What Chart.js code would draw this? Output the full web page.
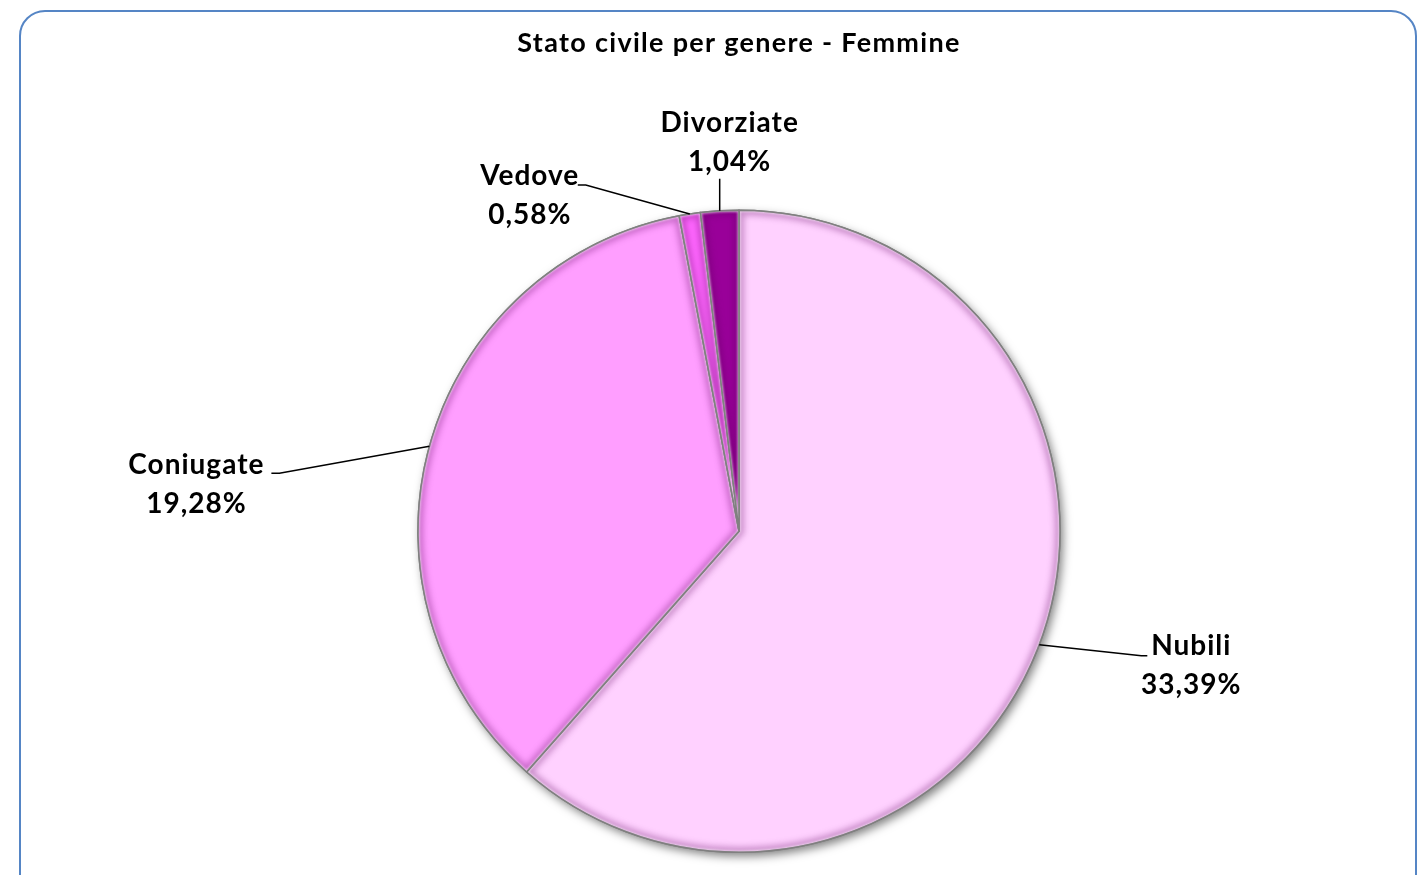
<!DOCTYPE html>
<html>
<head>
<meta charset="utf-8">
<script src="https://cdn.jsdelivr.net/npm/chart.js@4.4.1/dist/chart.umd.min.js"></script>
<style>
  html, body { margin: 0; padding: 0; background: #fff; overflow: hidden; }
  #frame {
    position: absolute; left: 19px; top: 10px; width: 1398px; height: 900px;
    border: 2.5px solid #5585C5; border-radius: 26px; box-sizing: border-box;
  }
  #wrap { position: absolute; left: 0; top: 0; width: 1426px; height: 875px; }
</style>
</head>
<body>
<div id="frame"></div>
<div id="wrap"><canvas id="pieChart" width="1426" height="875"></canvas></div>
<script>
// Values (percent labels as shown).
const categories = ["Nubili", "Coniugate", "Vedove", "Divorziate"];
const values = [33.39, 19.28, 0.58, 1.04];
const valueLabels = ["33,39%", "19,28%", "0,58%", "1,04%"];
const sliceColors = ["#FFD1FF", "#FF9EFF", "#FF66FF", "#990099"];

// Where each label sits relative to the point on the pie edge at mid-angle.
// elbow: where the leader line bends, text: centre of first text line.
const labelLayout = [
  { elbow: [102, 11], text: [152, 1] },
  { elbow: [-150, 27], text: [-233, 19] },
  { elbow: [-104, -29], text: [-160, -38] },
  { elbow: [0, -32], text: [10, -88] }
];

const labelFont = 'bold 28px Lato, "Open Sans", sans-serif';

// Wider tracking so Lato matches the width of the original text.
const tracking = {
  id: 'tracking',
  beforeDraw(chart) {
    chart.ctx.letterSpacing = '1.3px';
  }
};

// Soft drop shadow under the whole pie.
const pieShadow = {
  id: 'pieShadow',
  beforeDatasetsDraw(chart) {
    const arc = chart.getDatasetMeta(0).data[0];
    if (!arc) return;
    const ctx = chart.ctx;
    ctx.save();
    ctx.shadowColor = 'rgba(0,0,0,0.5)';
    ctx.shadowBlur = 10;
    ctx.shadowOffsetX = 3;
    ctx.shadowOffsetY = 4;
    ctx.fillStyle = '#fff';
    ctx.beginPath();
    ctx.arc(arc.x, arc.y, arc.outerRadius, 0, Math.PI * 2);
    ctx.fill();
    ctx.restore();
  }
};

// Bevel look: dark inner edge and a light highlight inside every slice.
const bevel = {
  id: 'bevel',
  afterDatasetsDraw(chart) {
    const ctx = chart.ctx;
    chart.getDatasetMeta(0).data.forEach(arc => {
      const { x, y, startAngle, endAngle, outerRadius } = arc;
      const path = new Path2D();
      path.moveTo(x, y);
      path.arc(x, y, outerRadius, startAngle, endAngle);
      path.closePath();
      ctx.save();
      ctx.clip(path);
      ctx.filter = 'blur(3px)';
      ctx.lineWidth = 10;
      ctx.strokeStyle = 'rgba(90,0,90,0.32)';
      ctx.stroke(path);
      ctx.filter = 'blur(1px)';
      ctx.lineWidth = 3;
      ctx.strokeStyle = 'rgba(255,255,255,0.6)';
      ctx.stroke(path);
      ctx.restore();
      ctx.save();
      ctx.lineWidth = 1.5;
      ctx.strokeStyle = '#808080';
      ctx.stroke(path);
      ctx.restore();
    });
  }
};

// Outside labels with leader lines.
const outsideLabels = {
  id: 'outsideLabels',
  afterDraw(chart) {
    const ctx = chart.ctx;
    ctx.save();
    ctx.font = labelFont;
    ctx.letterSpacing = '1px';
    ctx.fillStyle = '#000';
    ctx.strokeStyle = '#000';
    ctx.lineWidth = 1.5;
    ctx.textAlign = 'center';
    ctx.textBaseline = 'middle';
    chart.getDatasetMeta(0).data.forEach((arc, i) => {
      const mid = (arc.startAngle + arc.endAngle) / 2;
      const ex = arc.x + Math.cos(mid) * arc.outerRadius;
      const ey = arc.y + Math.sin(mid) * arc.outerRadius;
      const lay = labelLayout[i];
      const bx = ex + lay.elbow[0];
      const by = ey + lay.elbow[1];
      const tx = ex + lay.text[0];
      const ty = ey + lay.text[1];
      ctx.beginPath();
      ctx.moveTo(ex, ey);
      ctx.lineTo(bx, by);
      if (lay.elbow[0] > 0) ctx.lineTo(bx + 6, by);
      else if (lay.elbow[0] < 0) ctx.lineTo(bx - 8, by);
      ctx.stroke();
      ctx.fillText(categories[i], tx, ty);
      ctx.fillText(valueLabels[i], tx, ty + 39);
    });
    ctx.restore();
  }
};

const ctx = document.getElementById('pieChart').getContext('2d');
new Chart(ctx, {
  type: 'pie',
  data: {
    labels: categories,
    datasets: [{
      data: values,
      backgroundColor: sliceColors,
      borderColor: '#808080',
      borderWidth: 1.5
    }]
  },
  options: {
    responsive: false,
    animation: false,
    layout: { padding: { top: 0, bottom: 22, left: 300, right: 248 } },
    plugins: {
      legend: { display: false },
      tooltip: { enabled: false },
      title: {
        display: true,
        text: 'Stato civile per genere - Femmine',
        color: '#000',
        font: { family: 'Lato, "Open Sans", sans-serif', size: 27, weight: 'bold' },
        padding: { top: 27, bottom: 150 }
      }
    }
  },
  plugins: [tracking, pieShadow, bevel, outsideLabels]
});
</script>
</body>
</html>
